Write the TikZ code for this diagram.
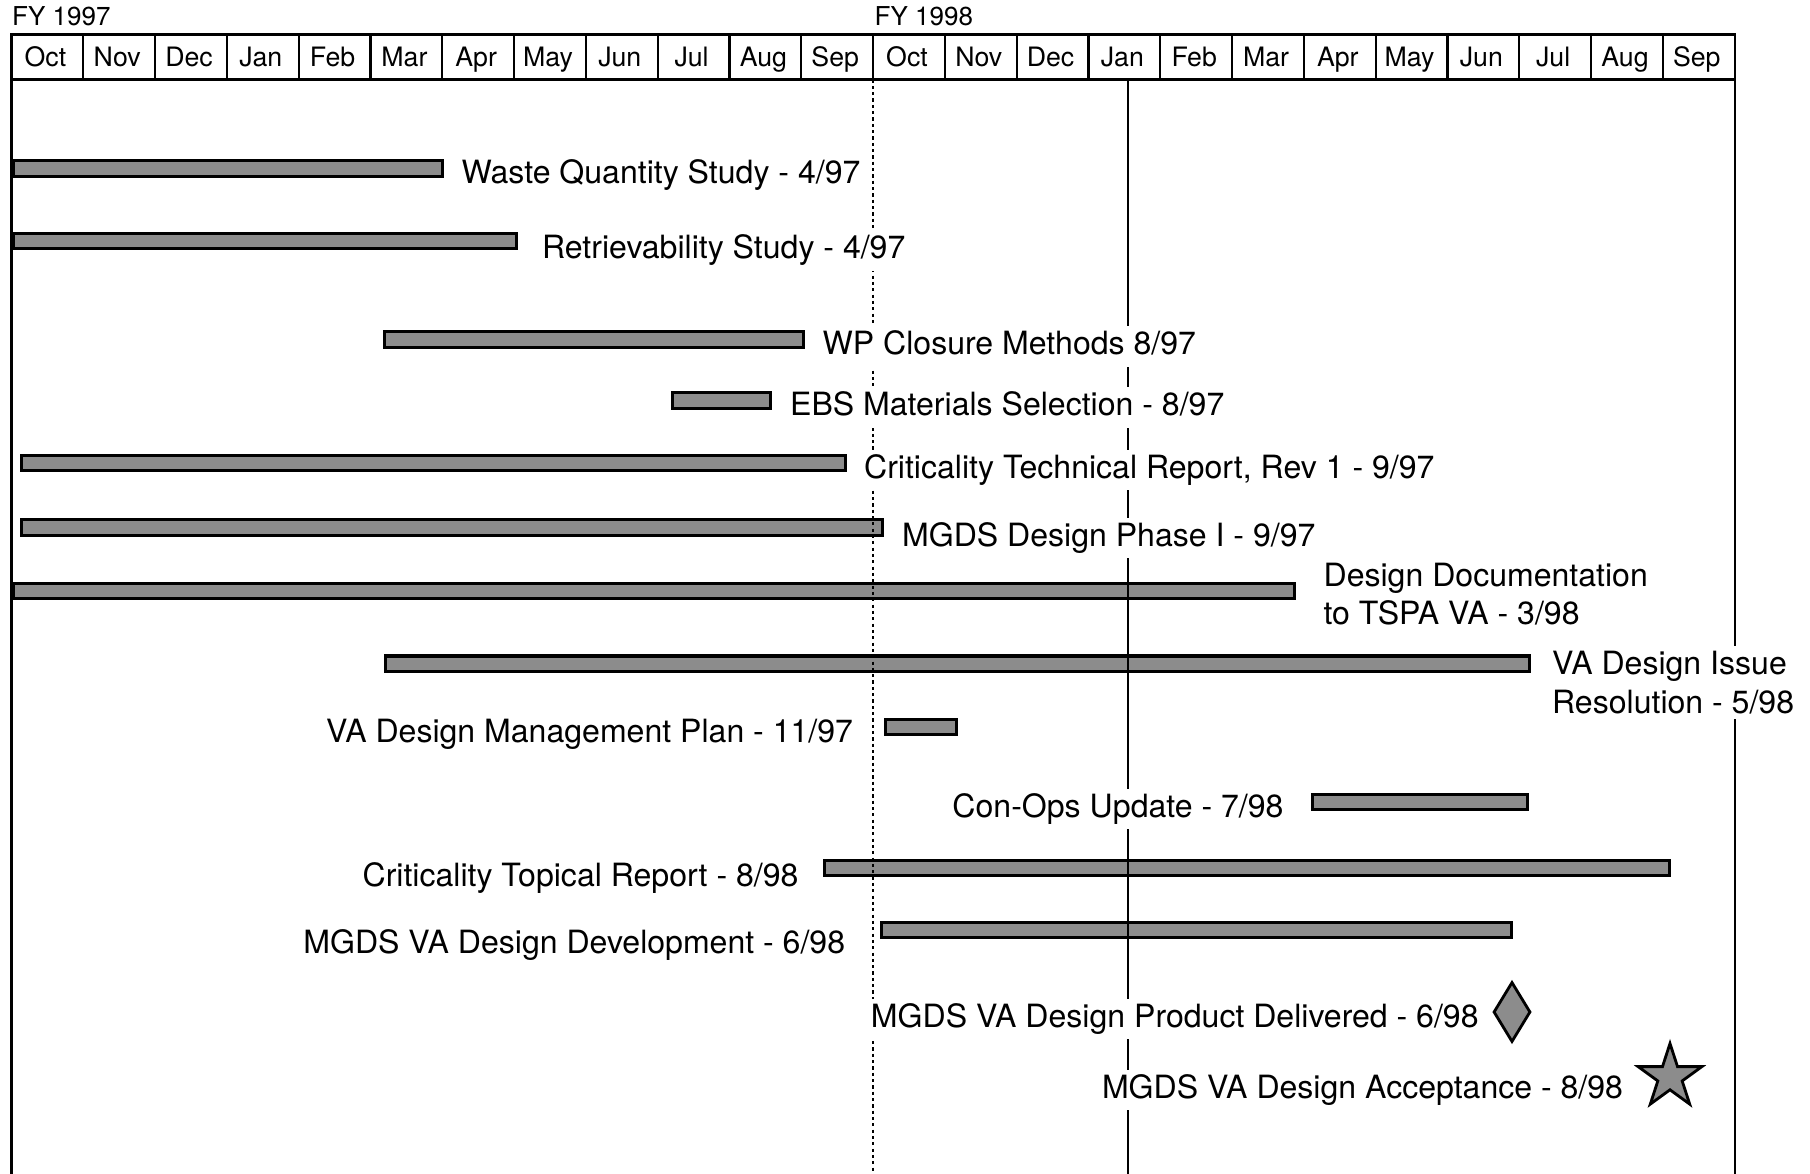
\documentclass[tikz,border=0pt]{standalone}
\usepackage{fontspec}
\setmainfont{TeX Gyre Heros}
\usetikzlibrary{positioning}
\usetikzlibrary{shapes.geometric}
\definecolor{barGray}{RGB}{140,140,140}
\tikzset{
  taskbar/.style={
    rectangle, draw=black, line width=0.9pt, fill=barGray,
    minimum height=1.55mm, inner sep=0pt, anchor=west
  },
  tasklabel/.style={
    fill=white, inner xsep=1.5pt, inner ysep=1.5pt,
    font=\fontsize{9.12}{10.9}\selectfont,
    text height=2.3mm, text depth=0.65mm, yshift=-0.7mm
  },
  tasklabeltwo/.style={
    fill=white, inner xsep=1.5pt, inner ysep=1.5pt, align=left,
    font=\fontsize{9.12}{10.9}\selectfont
  },
  monthlabel/.style={
    font=\fontsize{7.6}{9}\selectfont, inner sep=0pt,
    text height=1.9mm, text depth=0.5mm
  },
  fylabel/.style={font=\fontsize{7.4}{9}\selectfont, inner sep=0pt, anchor=west},
  outline/.style={line width=0.8pt},
  monthsep/.style={line width=0.6pt},
  fyline/.style={line width=0.6pt, dash pattern=on 0.9pt off 0.9pt},
  today/.style={line width=0.6pt},
  milestone/.style={
    diamond, draw=black, line width=0.8pt, fill=barGray,
    minimum width=3.7mm, minimum height=6mm, inner sep=0pt
  },
  goalstar/.style={
    star, star points=5, star point ratio=2.618, draw=black, line width=0.8pt,
    fill=barGray, minimum size=6.7mm, inner sep=0pt
  }
}

\begin{document}
\begin{tikzpicture}[x=0.1mm, y=-0.1mm]
  \useasboundingbox (0,0) rectangle (1810,1174);

  % cabecera de meses
  \node[fylabel] (fy97) at (11.5,16) {FY 1997};
  \node[fylabel] (fy98) at (874,16) {FY 1998};
  \draw[outline] (11.5,1174) -- (11.5,34.5) -- (1735,34.5) -- (1735,1174);
  \draw[outline] (11.5,79.5) -- (1735,79.5);
  \foreach \i in {1,...,23}
    \draw[monthsep] ({11.5+71.8*\i},34.5) -- ({11.5+71.8*\i},79.5);
  \foreach \mes [count=\i from 0] in {Oct,Nov,Dec,Jan,Feb,Mar,Apr,May,Jun,Jul,Aug,Sep,Oct,Nov,Dec,Jan,Feb,Mar,Apr,May,Jun,Jul,Aug,Sep}
    \node[monthlabel] (m\i) at ({9.5+71.8*(\i+0.5)},59.5) {\mes};

  % barras
  \node[taskbar, minimum width=42.95mm] (wqs) at (11.5,168.5) {};
  \node[taskbar, minimum width=50.35mm] (rst) at (11.5,241) {};
  \node[taskbar, minimum width=41.9mm] (wpc) at (383,339.5) {};
  \node[taskbar, minimum width=9.84mm] (ebs) at (670.6,400.5) {};
  \node[taskbar, minimum width=82.44mm] (ctr) at (19.6,463) {};
  \node[taskbar, minimum width=86.14mm] (mdp) at (19.6,527.5) {};
  \node[taskbar, minimum width=128.15mm] (ddt) at (11.5,591) {};
  \node[taskbar, minimum width=114.4mm] (vai) at (384,663.7) {};
  \node[taskbar, minimum width=7.06mm] (vam) at (884,727) {};
  \node[taskbar, minimum width=21.5mm] (cou) at (1311,802) {};
  \node[taskbar, minimum width=84.5mm] (ctp) at (823,868) {};
  \node[taskbar, minimum width=63.04mm] (mvd) at (879.6,930) {};
  \node[milestone] (mpd) at (1512,1012) {};
  \node[goalstar] (mda) at (1670,1077) {};

  % lineas verticales
  \draw[fyline] (873,79.5) -- (873,1174);
  \draw[today] (1128,79.5) -- (1128,1174);

  % textos
  \node[tasklabel, right=1.15mm of wqs] (wqsTxt) {Waste Quantity Study - 4/97};
  \node[tasklabel, right=1.8mm of rst, yshift=-0.25mm] (rstTxt) {Retrievability Study - 4/97};
  \node[tasklabel, right=1.15mm of wpc] (wpcTxt) {WP Closure Methods 8/97};
  \node[tasklabel, right=1.2mm of ebs] (ebsTxt) {EBS Materials Selection - 8/97};
  \node[tasklabel, right=1.1mm of ctr] (ctrTxt) {Criticality Technical Report, Rev 1 - 9/97};
  \node[tasklabel, right=1.2mm of mdp, yshift=-0.35mm] (mdpTxt) {MGDS Design Phase I - 9/97};
  \node[tasklabeltwo, right=2.15mm of ddt, yshift=-0.3mm] (ddtTxt) {Design Documentation\\to TSPA VA - 3/98};
  \node[tasklabeltwo, right=1.5mm of vai, yshift=-1.9mm] (vaiTxt) {VA Design Issue\\Resolution - 5/98};
  \node[tasklabel, left=2.5mm of vam] (vamTxt) {VA Design Management Plan - 11/97};
  \node[tasklabel, left=2.15mm of cou] (couTxt) {Con-Ops Update - 7/98};
  \node[tasklabel, left=1.85mm of ctp, yshift=-0.35mm] (ctpTxt) {Criticality Topical Report - 8/98};
  \node[tasklabel, left=2.85mm of mvd, yshift=-0.8mm] (mvdTxt) {MGDS VA Design Development - 6/98};
  \node[tasklabel, left=0.75mm of mpd] (mpdTxt) {MGDS VA Design Product Delivered - 6/98};
  \node[tasklabel, left=2.1mm of mda, yshift=-0.6mm] (mdaTxt) {MGDS VA Design Acceptance - 8/98};
\end{tikzpicture}
\end{document}
